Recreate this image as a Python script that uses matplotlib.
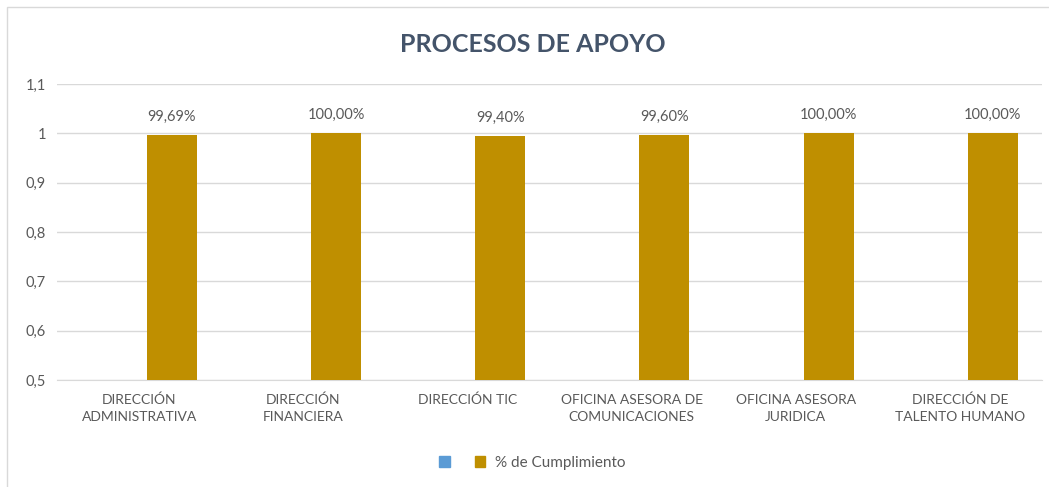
import matplotlib.pyplot as plt
from matplotlib.patches import Rectangle, Patch
import numpy as np

plt.rcParams['font.family'] = ['Lato', 'DejaVu Sans']

categories = ["DIRECCIÓN\nADMINISTRATIVA", "DIRECCIÓN\nFINANCIERA", "DIRECCIÓN TIC",
              "OFICINA ASESORA DE\nCOMUNICACIONES", "OFICINA ASESORA\nJURIDICA",
              "DIRECCIÓN DE\nTALENTO HUMANO"]
cumplimiento = [0.9969, 1.0, 0.994, 0.996, 1.0, 1.0]
labels = ["99,69%", "100,00%", "99,40%", "99,60%", "100,00%", "100,00%"]
yticks = [0.5, 0.6, 0.7, 0.8, 0.9, 1.0, 1.1]
ytick_labels = ["0,5", "0,6", "0,7", "0,8", "0,9", "1", "1,1"]

gold = "#BF8F00"
blue = "#5B9BD5"
text_col = "#595959"

fig = plt.figure(figsize=(10.49, 4.87), dpi=100)
W, H = 1049, 487
ax = fig.add_axes([57 / W, 1 - 380 / H, (1042 - 57) / W, (380 - 84) / H])

x = np.arange(len(categories))
bars = ax.bar(x + 0.2, cumplimiento, width=0.305, color=gold, zorder=3)
for b, lab in zip(bars, labels):
    ax.annotate(lab, (b.get_x() + b.get_width() / 2, b.get_height()),
                xytext=(0, 8), textcoords="offset points", ha="center", va="bottom",
                fontsize=10.5, color=text_col)

ax.set_xlim(-0.5, len(categories) - 0.5)
ax.set_ylim(0.5, 1.1)
ax.set_yticks(yticks)
ax.set_yticklabels(ytick_labels, fontsize=10.5, color=text_col)
ax.set_xticks(x)
ax.set_xticklabels(categories, fontsize=10, color=text_col, linespacing=1.5)
ax.tick_params(length=0, pad=10)
ax.tick_params(axis="y", pad=8)
ax.grid(axis="y", color="#D9D9D9", linewidth=1, zorder=0)
for s in ["top", "right", "left"]:
    ax.spines[s].set_visible(False)
ax.spines["bottom"].set_color("#D9D9D9")

fig.text(533 / W, 1 - 45 / H, "PROCESOS DE APOYO", ha="center", va="center",
         fontsize=18, fontweight="bold", color="#44546A")

handles = [Patch(color=blue, label=" "), Patch(color=gold, label="% de Cumplimiento")]
fig.legend(handles=handles, loc="center", bbox_to_anchor=(532 / W, 1 - 463 / H), ncol=2,
           frameon=False, fontsize=11, handlelength=0.7, handleheight=0.7,
           columnspacing=0.8, handletextpad=0.6, labelcolor=text_col)

fig.patches.append(Rectangle((7 / W, -0.01), 1.02, 1 - 7 / H + 0.01, transform=fig.transFigure,
                             fill=False, edgecolor="#D9D9D9", linewidth=1))

fig.savefig("out.png", dpi=100)
